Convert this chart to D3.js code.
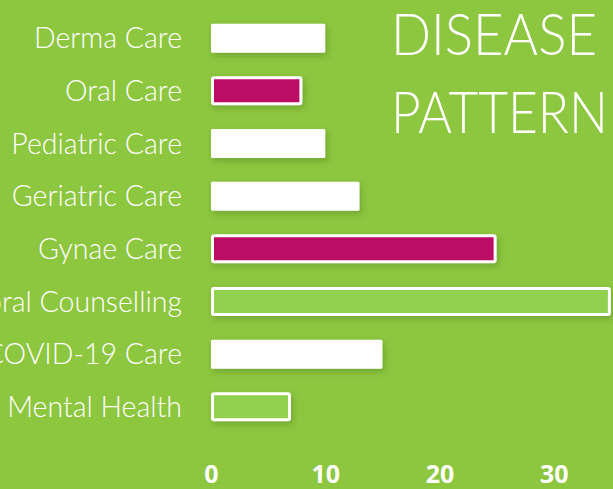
<!DOCTYPE html>
<html>
<head>
<meta charset="utf-8">
<script src="https://cdn.jsdelivr.net/npm/d3@7"></script>
<style>
  html, body { margin: 0; padding: 0; background: #8DC63F; overflow: hidden; }
  svg { display: block; }
</style>
</head>
<body>
<svg id="chart" width="613" height="489"></svg>
<script>
const categories = ['Derma Care', 'Oral Care', 'Pediatric Care', 'Geriatric Care',
  'Gynae Care', 'Behavioral Counselling', 'COVID-19 Care', 'Mental Health'];
const values = [10, 8, 10, 13, 25, 35, 15, 7];
const barKinds = ['white', 'magenta', 'white', 'white', 'magenta', 'green', 'white', 'green'];
const tickValues = [0, 10, 20, 30, 40];
const titleLines = ['DISEASE', 'PATTERN'];

const fills = { white: '#FFFFFF', magenta: '#BC0765', green: '#92D050' };

const svg = d3.select('#chart');

// soft shadow under the bars
const defs = svg.append('defs');
defs.append('filter')
  .attr('id', 'shadow')
  .attr('x', '-10%').attr('y', '-30%')
  .attr('width', '130%').attr('height', '190%')
  .append('feDropShadow')
  .attr('dx', 2).attr('dy', 3)
  .attr('stdDeviation', 3)
  .attr('flood-color', '#3d6a12')
  .attr('flood-opacity', 0.35);

const x = d3.scaleLinear().domain([0, 40]).range([211, 668]);
const y = d3.scaleBand().domain(categories).range([0, 445]).padding(0.45);

const data = categories.map((c, i) => ({ label: c, value: values[i], kind: barKinds[i] }));

// bars
svg.append('g')
  .selectAll('rect')
  .data(data)
  .join('rect')
  .attr('x', (d) => d.kind === 'white' ? x(0) : x(0) + 1.5)
  .attr('y', (d) => d.kind === 'white' ? y(d.label) : y(d.label) + 1.5)
  .attr('width', (d) => d.kind === 'white' ? x(d.value) - x(0) : x(d.value) - x(0) - 3)
  .attr('height', (d) => d.kind === 'white' ? y.bandwidth() : y.bandwidth() - 3)
  .attr('rx', 1.5)
  .attr('fill', (d) => fills[d.kind])
  .attr('stroke', (d) => d.kind === 'white' ? 'none' : '#fff')
  .attr('stroke-width', 3)
  .attr('filter', 'url(#shadow)');

// category labels
svg.append('g')
  .selectAll('text')
  .data(data)
  .join('text')
  .attr('x', 182)
  .attr('y', (d) => y(d.label) + y.bandwidth() / 2)
  .attr('dy', '0.36em')
  .attr('text-anchor', 'end')
  .attr('fill', '#fff')
  .style('font-family', 'Lato, sans-serif')
  .style('font-weight', 300)
  .style('font-size', '28.5px')
  .text((d) => d.label);

// x axis
const xAxis = d3.axisBottom(x).tickValues(tickValues).tickSize(0).tickPadding(0);
const axisG = svg.append('g')
  .attr('transform', 'translate(0,465)')
  .call(xAxis);
axisG.select('.domain').remove();
axisG.selectAll('text')
  .attr('fill', '#fff')
  .style('font-family', '"Open Sans", sans-serif')
  .style('font-weight', 700)
  .style('font-size', '25px');

// title
const titleWidths = [206, 217];
svg.append('g')
  .selectAll('text')
  .data(titleLines)
  .join('text')
  .attr('x', 391)
  .attr('y', (d, i) => 55 + i * 78)
  .attr('textLength', (d, i) => titleWidths[i])
  .attr('lengthAdjust', 'spacingAndGlyphs')
  .attr('fill', '#fff')
  .style('font-family', 'Lato, sans-serif')
  .style('font-weight', 300)
  .style('font-size', '57px')
  .text((d) => d);
</script>
</body>
</html>
